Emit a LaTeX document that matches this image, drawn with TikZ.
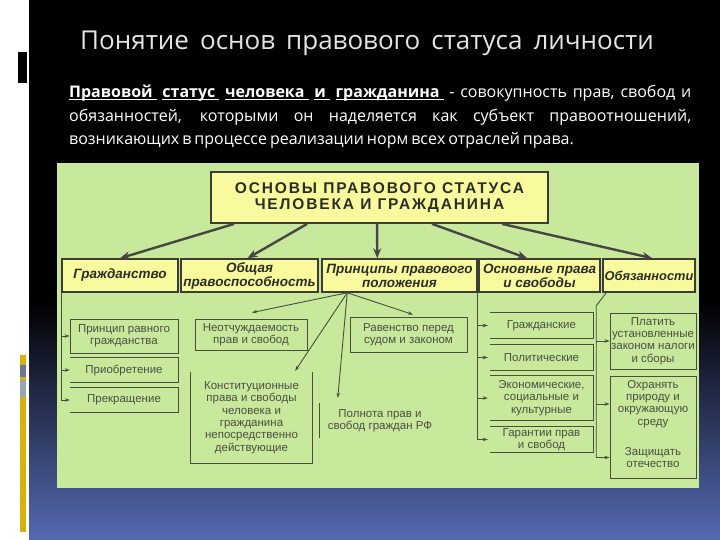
\documentclass[tikz,border=0pt]{standalone}
\usepackage{fontspec}
\setmainfont{Open Sans}
\newfontfamily\lib{Liberation Sans}
\newfontfamily\libsp[LetterSpace=12]{Liberation Sans}
\usetikzlibrary{arrows.meta,calc}
\definecolor{bgblue}{RGB}{85,105,178}
\definecolor{gold}{RGB}{214,178,10}
\definecolor{greyA}{RGB}{110,120,150}
\definecolor{greyB}{RGB}{150,165,175}
\definecolor{titlec}{RGB}{228,228,228}
\definecolor{panel}{RGB}{200,233,155}
\definecolor{yel}{RGB}{249,249,158}
\definecolor{boxc}{RGB}{60,60,55}
\definecolor{arrc}{RGB}{70,70,68}
\definecolor{txtd}{RGB}{45,45,40}
\definecolor{linec}{RGB}{70,80,60}
\definecolor{subt}{RGB}{75,78,68}
\newcommand\ulw[1]{\underline{\smash{\textbf{#1}}\hspace{4pt}}}
\tikzset{
 lvl1/.style={draw=boxc, line width=1.5pt, fill=yel, font=\lib\bfseries\itshape\fontsize{13.5}{14}\selectfont, text=txtd, inner sep=0pt, minimum height=33pt, align=center},
 bigarrow/.style={draw=arrc, line width=2.4pt, -{Stealth[length=10pt,width=8pt]}},
 sub/.style={font=\lib\fontsize{11.5}{12.3}\selectfont, text=subt, align=center, inner sep=0pt},
 subbox/.style={sub, draw=linec, line width=0.9pt},
 thinline/.style={draw=linec, line width=0.9pt},
 thinarrow/.style={thinline, -{Stealth[length=5pt,width=3.5pt]}},
 para/.style={anchor=base west, inner sep=0pt, text=white, font=\fontsize{16}{18}\selectfont},
}
\begin{document}
\begin{tikzpicture}[x=1pt,y=-1pt]
\useasboundingbox (0,0) rectangle (720,540);
% background
\fill[white] (0,0) rectangle (29,540);
\fill[black] (29,0) rectangle (720,300);
\shade[top color=black,bottom color=bgblue] (29,300) rectangle (720,540);
\fill[black] (18,52) rectangle (27,83);
\fill[gold] (20,355) rectangle (26,532);
\fill[greyA] (20,365) rectangle (26,377);
\fill[greyB] (20,380) rectangle (26,397);
% title
\node[anchor=base west, inner sep=0pt, text=titlec, font=\fontsize{26}{30}\selectfont] (title) at (80,50) {Понятие\, основ\, правового\, статуса\, личности};
% paragraph
\node[para] (p1) at (69,98)
 {\makebox[622pt][s]{\ulw{Правовой} \ulw{статус} \ulw{человека} \ulw{и} \ulw{гражданина} - совокупность прав, свобод и}};
\node[para] (p2) at (69,122)
 {\makebox[622pt][s]{обязанностей, которыми он наделяется как субъект правоотношений,}};
\node[para] (p3) at (69,145)
 {\spaceskip=3pt возникающих в процессе реализации норм всех отраслей права.};
% panel
\fill[panel] (57,163) rectangle (699,488);
% top box
\node[draw=boxc, line width=1.8pt, fill=yel, minimum width=337pt, minimum height=51pt, inner sep=0pt, align=center, font=\libsp\bfseries\fontsize{15.5}{15.5}\selectfont, text=txtd] (top) at (379.5,197.5) {ОСНОВЫ ПРАВОВОГО СТАТУСА\\ЧЕЛОВЕКА И ГРАЖДАНИНА};
% level 1
\node[lvl1, minimum width=116pt] (b1) at (120,275.5) {Гражданство};
\node[lvl1, minimum width=137pt] (b2) at (249.5,275.5) {Общая\\правоспособность};
\node[lvl1, minimum width=155pt] (b3) at (399.5,275.5) {Принципы правового\\положения};
\node[lvl1, minimum width=121pt] (b4) at (539.5,275.5) {Основные права\\и свободы};
\node[lvl1, minimum width=92pt, font=\lib\bfseries\itshape\fontsize{12.8}{14}\selectfont] (b5) at (649,275.5) {Обязанности};
\draw[bigarrow] ($(top.south west)+(24,0)$) -- (b1.north);
\draw[bigarrow] ($(top.south west)+(97,0)$) -- ($(b2.north)+(-2,0)$);
\draw[bigarrow] ($(top.south west)+(167,0)$) -- ($(b3.north west)+(56,0)$);
\draw[bigarrow] ($(top.south west)+(222,0)$) -- ($(b4.north west)+(49,0)$);
\draw[bigarrow] ($(top.south west)+(292,0)$) -- ($(b5.north west)+(50,0)$);
% Гражданство group
\node[subbox, minimum width=108pt, minimum height=34pt] (s1) at (124,336) {Принцип равного\\гражданства};
\node[sub, minimum width=108pt, minimum height=24pt] (s2) at (124,370) {Приобретение};
\node[sub, minimum width=108pt, minimum height=24pt] (s3) at (124,400) {Прекращение};
\draw[thinline] (s2.north west) -- (s2.north east) -- (s2.south east) -- (s2.south west);
\draw[thinline] (s3.north west) -- (s3.north east) -- (s3.south east) -- (s3.south west);
\draw[thinline] (b1.south west) -- (b1.south west |- s3.west);
\draw[thinarrow] (b1.south west |- s1.west) -- (s1.west);
\draw[thinarrow] (b1.south west |- s2.west) -- (s2.west);
\draw[thinarrow] (b1.south west |- s3.west) -- (s3.west);
% Принципы group
\node[subbox, minimum width=112pt, minimum height=31pt] (s4) at (251,334.5) {Неотчуждаемость\\прав и свобод};
\node[sub, minimum width=121pt, minimum height=91pt] (s5) at (251.5,417.5) {Конституционные\\права и свободы\\человека и\\гражданина\\непосредственно\\действующие};
\draw[thinline] (s5.north west) -- (s5.south west) -- (s5.south east) -- (s5.north east);
\node[sub, minimum width=120pt, minimum height=35pt] (s6) at (380,420.5) {Полнота прав и\\свобод граждан РФ};
\draw[thinline] (s6.north west) -- (s6.south west);
\node[subbox, minimum width=117pt, minimum height=35pt] (s7) at (408.5,334.5) {Равенство перед\\судом и законом};
\coordinate (r3) at ($(b3.south west)+(26,0)$);
\draw[thinarrow] (r3) -- ($(s4.north)+(1,-6)$);
\draw[thinarrow] (r3) -- ($(s5.north east)+(-17,-1)$);
\draw[thinarrow] (r3) -- ($(s6.north west)+(18,-5)$);
\draw[thinarrow] (r3) -- ($(s7.north)+(4.5,-2)$);
% Основные права group
\node[sub, minimum width=103pt, minimum height=25pt] (g1) at (541.5,325.5) {Гражданские};
\node[sub, minimum width=103pt, minimum height=25pt] (g2) at (541.5,357.5) {Политические};
\node[sub, minimum width=103pt, minimum height=44pt] (g3) at (541.5,398) {Экономические,\\социальные и\\культурные};
\node[sub, minimum width=103pt, minimum height=25pt] (g4) at (541.5,439.5) {Гарантии прав\\и свобод};
\foreach \g in {g1,g2,g3,g4}{
 \draw[thinline] (\g.north west) -- (\g.north east) -- (\g.south east) -- (\g.south west);
}
\coordinate (r4) at ($(b4.south west)+(-1,0)$);
\draw[thinline] (r4) -- (r4 |- g4.west);
\foreach \g in {g1,g2,g3,g4}{
 \draw[thinarrow] (r4 |- \g.west) -- ($(\g.west)+(-2,0)$);
}
% Обязанности group
\node[subbox, minimum width=86pt, minimum height=56pt] (o1) at (653,341) {Платить\\установленные\\законом налоги\\и сборы};
\node[draw=linec, line width=0.9pt, minimum width=86pt, minimum height=102pt, inner sep=0pt] (o2box) at (653,427) {};
\node[sub] (o2) at (653,404) {Охранять\\природу и\\окружающую\\среду};
\node[sub] (o3) at (653,457.5) {Защищать\\отечество};
\coordinate (r5) at ($(b5.south west)+(4,0)$);
\draw[thinline] (r5) -- ++(-10,13) coordinate (k5) -- (k5 |- o3);
\draw[thinarrow] (k5 |- o1.west) -- (o1.west);
\draw[thinarrow] (k5 |- o2) -- (o2box.west |- o2);
\draw[thinarrow] (k5 |- o3) -- (o2box.west |- o3);
\end{tikzpicture}
\end{document}
